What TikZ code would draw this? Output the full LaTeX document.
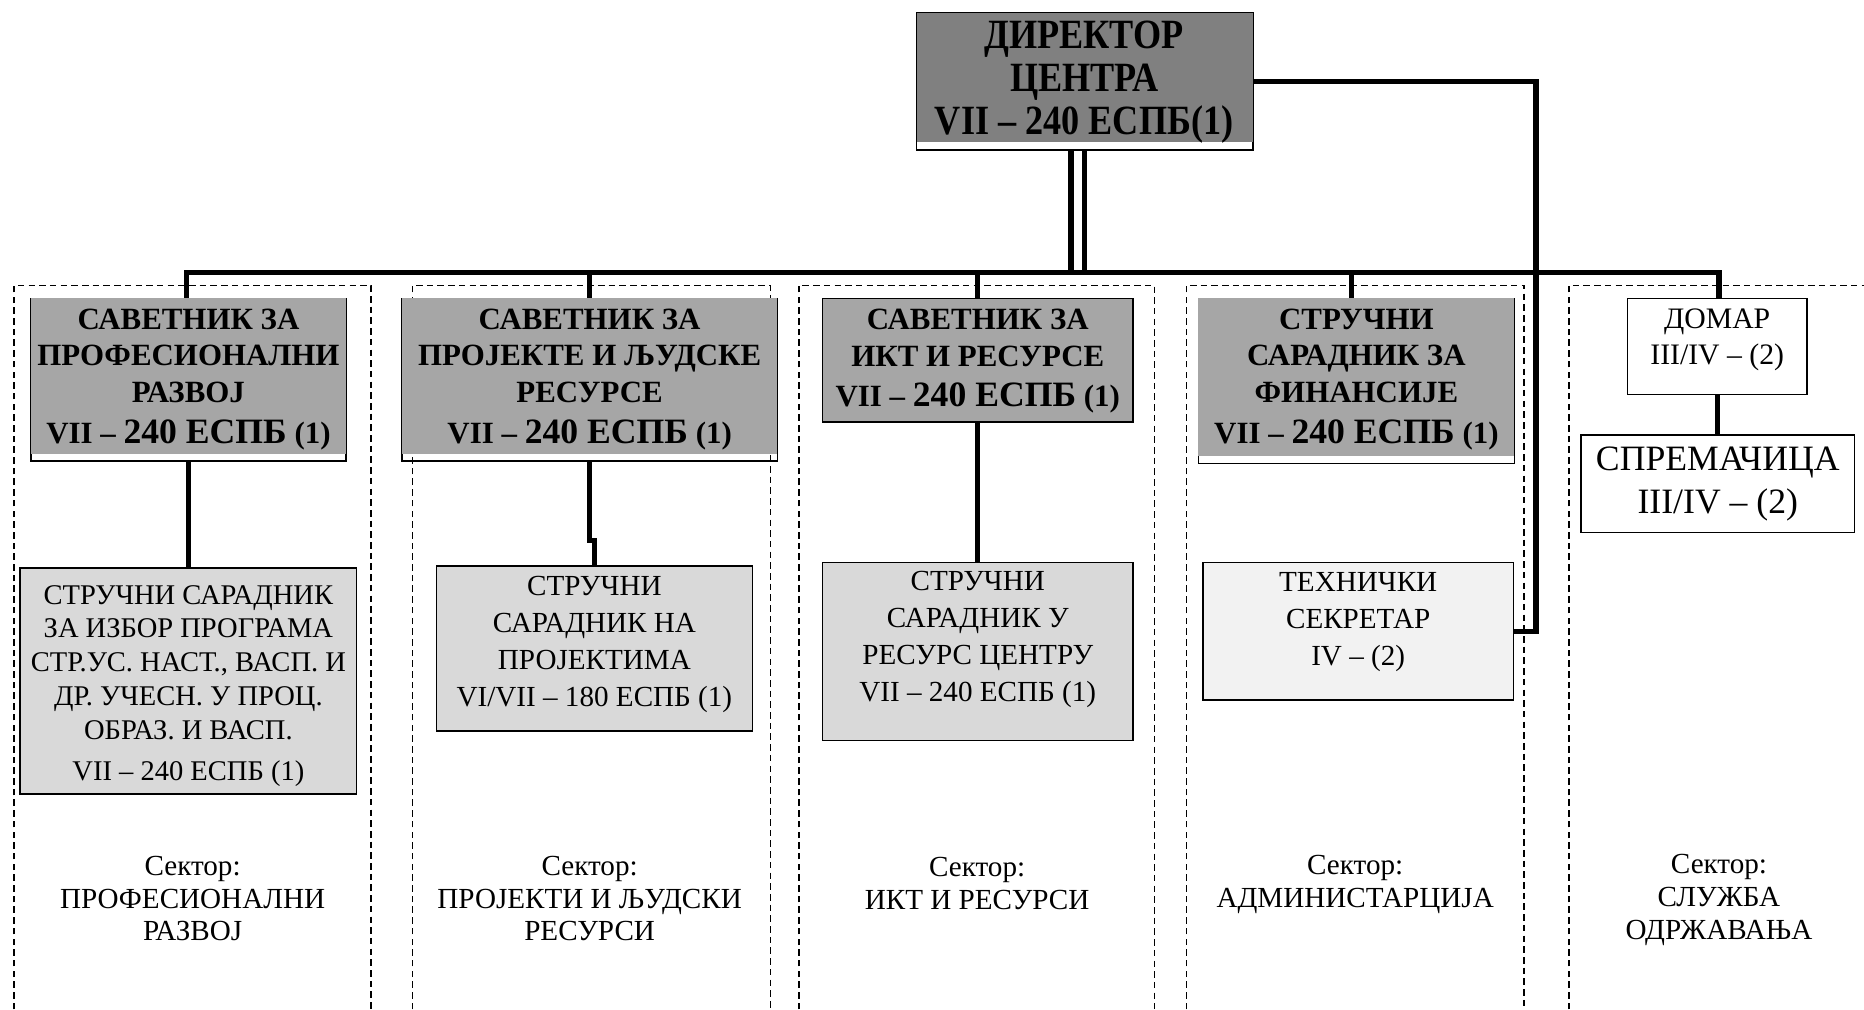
\documentclass[tikz,border=0pt]{standalone}
\usepackage{fontspec}
\setmainfont{Liberation Serif}
\newfontfamily\dirfont[FakeStretch=0.87]{Liberation Serif}
\usetikzlibrary{calc}
\definecolor{dirgray}{HTML}{808080}
\definecolor{advgray}{HTML}{A6A6A6}
\definecolor{lowgray}{HTML}{D9D9D9}
\definecolor{techgray}{HTML}{F2F2F2}
\newcommand\myespb{VII – {\fontsize{30}{31}\selectfont 240 ЕСПБ} (1)}
\begin{document}
\begin{tikzpicture}[x=1pt,y=-1pt,
  box/.style={draw, line width=1.3pt, inner sep=0pt, rectangle},
  conn/.style={line width=4.5pt, line join=miter},
  frame/.style={line width=1.3pt, dash pattern=on 5.5pt off 3.5pt},
  txt/.style={inner sep=0pt, align=center},
  hd/.style={txt, font=\bfseries\fontsize{26}{31}\selectfont},
  rg/.style={txt, font=\fontsize{24.5}{31}\selectfont},
  sc/.style={txt, font=\fontsize{24.5}{27.5}\selectfont},
]
\useasboundingbox[fill=white] (0,0) rectangle (1568,849);

% sector frames
\draw[frame] (12,849) -- (12,240) -- (312,240) -- (312,849);
\draw[frame] (347,849) -- (347,240) -- (648,240) -- (648,849);
\draw[frame] (672,849) -- (672,240) -- (971,240) -- (971,849);
\draw[frame] (998,849) -- (998,240) -- (1282,240) -- (1282,849);
\draw[frame] (1320,849) -- (1320,240) -- (1568,240);

% boxes
\node[box, minimum width=283pt, minimum height=115pt] (dir) at (912.5,68.5) {};
\fill[dirgray] ([xshift=0.7pt,yshift=-0.7pt]dir.north west) rectangle ([xshift=-0.7pt,yshift=7pt]dir.south east);
\node[txt, font=\dirfont\bfseries\fontsize{35}{36}\selectfont] (dirt) at (912,69) {ДИРЕКТОР\\ЦЕНТРА\\VII – 240 ЕСПБ(1)};

\node[box, minimum width=265pt, minimum height=137pt] (c1) at (158.5,319.5) {};
\fill[advgray] ([xshift=0.7pt,yshift=-0.7pt]c1.north west) rectangle ([xshift=-0.7pt,yshift=7pt]c1.south east);
\node[hd] (c1t) at (158.5,319) {САВЕТНИК ЗА\\ПРОФЕСИОНАЛНИ\\РАЗВОЈ\\[3pt]\myespb};

\node[box, minimum width=316pt, minimum height=137pt] (c2) at (496,319.5) {};
\fill[advgray] ([xshift=0.7pt,yshift=-0.7pt]c2.north west) rectangle ([xshift=-0.7pt,yshift=7pt]c2.south east);
\node[hd] (c2t) at (496,319) {САВЕТНИК ЗА\\ПРОЈЕКТЕ И ЉУДСКЕ\\РЕСУРСЕ\\[3pt]\myespb};

\node[box, fill=advgray, minimum width=261pt, minimum height=104pt] (c3) at (822.5,303) {};
\node[hd] (c3t) at (822.5,304) {САВЕТНИК ЗА\\ИКТ И РЕСУРСЕ\\[3pt]\myespb};

\node[box, minimum width=266pt, minimum height=139pt] (c4) at (1141,320.5) {};
\fill[advgray] ([xshift=0.7pt,yshift=-0.7pt]c4.north west) rectangle ([xshift=-0.7pt,yshift=7pt]c4.south east);
\node[hd] (c4t) at (1141,319) {СТРУЧНИ\\САРАДНИК ЗА\\ФИНАНСИЈЕ\\[3pt]\myespb};

\node[box, fill=white, minimum width=151pt, minimum height=81pt] (dom) at (1444.5,291.5) {};
\node[txt, font=\fontsize{25}{30}\selectfont] (domt) at (1444.5,286) {ДОМАР\\III/IV – (2)};

\node[box, fill=lowgray, minimum width=283pt, minimum height=190pt] (s1) at (158.5,573) {};
\node[txt, font=\fontsize{24}{28.5}\selectfont] (s1t) at (158.5,577) {СТРУЧНИ САРАДНИК\\ЗА ИЗБОР ПРОГРАМА\\СТР.УС. НАСТ., ВАСП. И\\ДР. УЧЕСН. У ПРОЦ.\\ОБРАЗ. И ВАСП.\\[6pt]VII – 240 ЕСПБ (1)};

\node[box, fill=lowgray, minimum width=266pt, minimum height=139pt] (s2) at (500,545.5) {};
\node[rg] (s2t) at (500,542) {СТРУЧНИ\\САРАДНИК НА\\ПРОЈЕКТИМА\\VI/VII – 180 ЕСПБ (1)};

\node[box, fill=lowgray, minimum width=261pt, minimum height=150pt] (s3) at (822.5,548) {};
\node[rg] (s3t) at (822.5,538) {СТРУЧНИ\\САРАДНИК У\\РЕСУРС ЦЕНТРУ\\VII – 240 ЕСПБ (1)};

\node[box, fill=techgray, minimum width=261pt, minimum height=116pt] (tech) at (1142.5,531) {};
\node[rg] (techt) at (1142.5,523) {ТЕХНИЧКИ\\СЕКРЕТАР\\IV – (2)};

\node[box, fill=white, minimum width=230pt, minimum height=82pt] (spr) at (1445,407) {};
\node[txt, font=\fontsize{30}{36}\selectfont] (sprt) at (1445,407) {СПРЕМАЧИЦА\\III/IV – (2)};

% sector labels
\node[sc] (sec1) at (162,756) {Сектор:\\ПРОФЕСИОНАЛНИ\\РАЗВОЈ};
\node[sc] (sec2) at (496,756) {Сектор:\\ПРОЈЕКТИ И ЉУДСКИ\\РЕСУРСИ};
\node[sc] (sec3) at (822,743) {Сектор:\\ИКТ И РЕСУРСИ};
\node[sc] (sec4) at (1140,744) {Сектор:\\АДМИНИСТАРЦИЈА};
\node[sc] (sec5) at (1446,757) {Сектор:\\СЛУЖБА\\ОДРЖАВАЊА};

% connectors
\coordinate (busL) at (157,229);
\coordinate (busR) at (1446,229);
\coordinate (b2) at (496,229);
\coordinate (b3) at (822,229);
\coordinate (b4) at (1137,229);
\coordinate (rc) at (1292,200);
\draw[conn] (busL |- c1.north) -- (busL) -- (busR) -- (busR |- dom.north);
\draw[conn] (b2) -- (b2 |- c2.north);
\draw[conn] (b3) -- (b3 |- c3.north);
\draw[conn] (b4) -- (b4 |- c4.north);
\draw[conn] ([xshift=-11.5pt]dir.south) -- ([xshift=-11.5pt]dir.south |- busL);
\draw[conn] ([xshift=-0.5pt]dir.south) -- ([xshift=-0.5pt]dir.south |- busL);
\draw[conn] (dir.east) -| (rc) |- (tech.east);
\draw[conn] (c1.south) -- (s1.north);
\draw[conn] (c2.south) -- ++(0,66) -| (s2.north);
\draw[conn] (c3.south) -- (s3.north);
\draw[conn] (dom.south) -- ++(0,16) -| (spr.north);
\end{tikzpicture}
\end{document}
